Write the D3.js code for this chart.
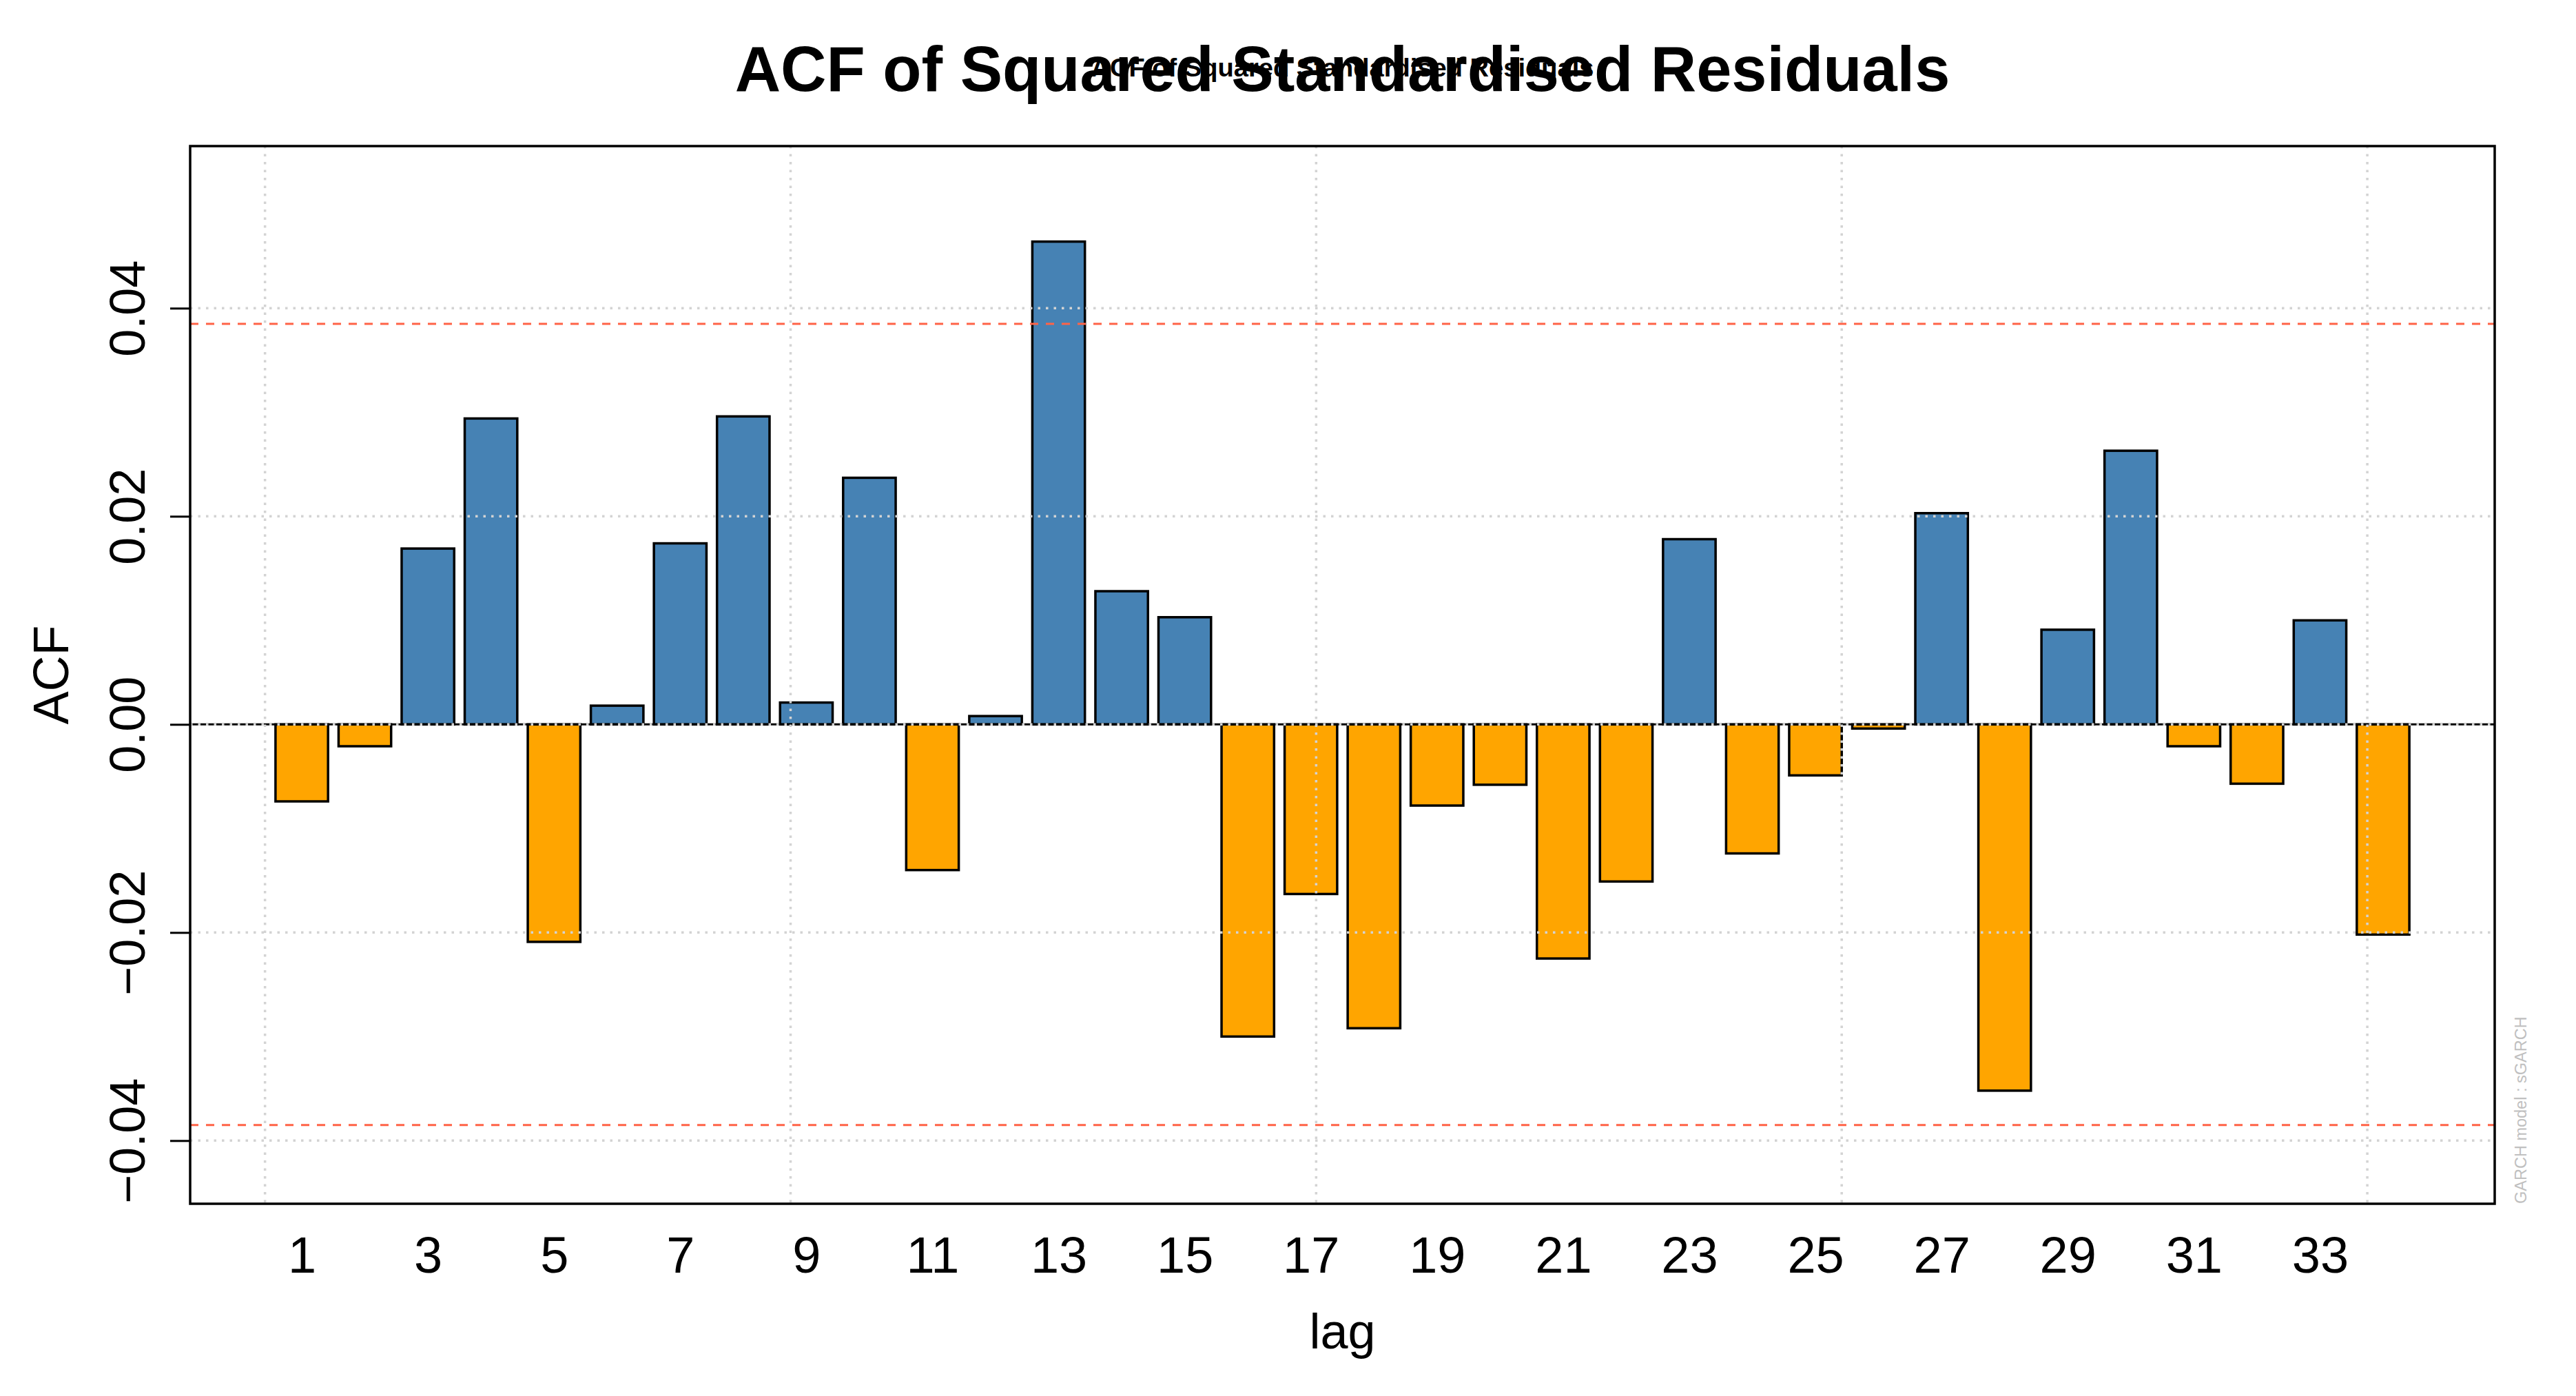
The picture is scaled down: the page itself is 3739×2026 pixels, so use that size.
<!DOCTYPE html>
<html>
<head>
<meta charset="utf-8">
<script src="https://cdn.jsdelivr.net/npm/d3@7"></script>
<style>
  body { margin: 0; background: #fff; }
  svg { display: block; font-family: "Liberation Sans", Arial, sans-serif; }
</style>
</head>
<body>
<svg id="plot" width="3739" height="2026"></svg>
<script>
// lags 1..34 and their ACF of squared standardised residuals
const lags = [1, 2, 3, 4, 5, 6, 7, 8, 9, 10, 11, 12, 13, 14, 15, 16, 17,
  18, 19, 20, 21, 22, 23, 24, 25, 26, 27, 28, 29, 30, 31, 32, 33, 34];
const acfValues = [-0.0074, -0.0021, 0.0169, 0.0294, -0.0209, 0.0018, 0.0174,
  0.0296, 0.0021, 0.0237, -0.0140, 0.0008, 0.0464, 0.0128, 0.0103, -0.0300,
  -0.0163, -0.0292, -0.0078, -0.0058, -0.0225, -0.0151, 0.0178, -0.0124,
  -0.0049, -0.0004, 0.0203, -0.0352, 0.0091, 0.0263, -0.0021, -0.0057,
  0.0100, -0.0202];
const xTickLags = [1, 3, 5, 7, 9, 11, 13, 15, 17, 19, 21, 23, 25, 27, 29, 31, 33];
const yTicks = [-0.04, -0.02, 0.00, 0.02, 0.04];
const xGrid = [0, 10, 20, 30, 40];
const confLimit = 0.0385;

const svg = d3.select('#plot');

const pLeft = 276, pRight = 3621, pTop = 212, pBottom = 1747;

// barplot coordinates: bar i spans [1.2i - 1, 1.2i]
const xScale = d3.scaleLinear()
  .domain([-1.424, 42.424])
  .range([pLeft, pRight]);

const yScale = d3.scaleLinear()
  .domain([-0.04607, 0.05558])
  .range([pBottom, pTop]);

const barLeft = lag => 1.2 * lag - 1;
const barMid = lag => 1.2 * lag - 0.5;

// bars
svg.append('g')
  .selectAll('rect')
  .data(lags)
  .enter()
  .append('rect')
  .attr('x', (d) => xScale(barLeft(d)))
  .attr('width', (d) => xScale(barLeft(d) + 1) - xScale(barLeft(d)))
  .attr('y', (d, i) => yScale(Math.max(0, acfValues[i])))
  .attr('height', (d, i) => Math.abs(yScale(acfValues[i]) - yScale(0)))
  .attr('fill', (d, i) => acfValues[i] >= 0 ? '#4682B4' : '#FFA500')
  .attr('stroke', '#000')
  .attr('stroke-width', 3.5);

// zero line
svg.append('line')
  .attr('x1', pLeft).attr('x2', pRight)
  .attr('y1', yScale(0)).attr('y2', yScale(0))
  .attr('stroke', '#000')
  .attr('stroke-width', 3);

// dotted grid
const grid = svg.append('g')
  .attr('stroke', '#d3d3d3')
  .attr('stroke-width', 3.5)
  .attr('stroke-dasharray', '3.5,8');
grid.selectAll('.hg')
  .data(yTicks)
  .enter()
  .append('line')
  .attr('x1', pLeft).attr('x2', pRight)
  .attr('y1', d => yScale(d)).attr('y2', d => yScale(d));
grid.selectAll('.vg')
  .data(xGrid)
  .enter()
  .append('line')
  .attr('y1', pTop).attr('y2', pBottom)
  .attr('x1', d => xScale(d)).attr('x2', d => xScale(d));

// confidence limits
svg.append('g')
  .selectAll('line')
  .data([confLimit, -confLimit])
  .enter()
  .append('line')
  .attr('x1', pLeft).attr('x2', pRight)
  .attr('y1', d => yScale(d)).attr('y2', d => yScale(d))
  .attr('stroke', '#FF6347')
  .attr('stroke-width', 3)
  .attr('stroke-dasharray', '12,11');

// y axis
const yAxis = svg.append('g')
  .attr('transform', 'translate(' + pLeft + ',0)')
  .call(d3.axisLeft(yScale).tickValues(yTicks).tickSize(29).tickFormat(d3.format('.2f')));
yAxis.select('.domain').remove();
yAxis.selectAll('.tick line').attr('stroke', '#000').attr('stroke-width', 3);
yAxis.selectAll('.tick text')
  .text(d => d3.format('.2f')(d).replace('-', '\u2212'))
  .attr('x', 0)
  .attr('y', -66)
  .attr('dy', 0)
  .attr('transform', 'rotate(-90)')
  .attr('text-anchor', 'middle')
  .attr('fill', '#000')
  .style('font-family', '"Liberation Sans", Arial, sans-serif')
  .style('font-size', '72px');

// x axis: labels only
const xAxis = svg.append('g')
  .attr('transform', 'translate(0,' + pBottom + ')')
  .call(d3.axisBottom(xScale)
    .tickValues(xTickLags.map(barMid))
    .tickSize(0)
    .tickFormat((d, i) => xTickLags[i]));
xAxis.select('.domain').remove();
xAxis.selectAll('.tick text')
  .attr('y', 100)
  .attr('dy', 0)
  .attr('fill', '#000')
  .style('font-family', '"Liberation Sans", Arial, sans-serif')
  .style('font-size', '74px');

// plot box
svg.append('rect')
  .attr('x', pLeft).attr('y', pTop)
  .attr('width', pRight - pLeft).attr('height', pBottom - pTop)
  .attr('fill', 'none')
  .attr('stroke', '#000')
  .attr('stroke-width', 3.5);

// titles (the small one is overprinted on the big one, as in the original)
const midX = (pLeft + pRight) / 2;
svg.append('text')
  .attr('x', midX).attr('y', 132)
  .attr('text-anchor', 'middle')
  .style('font-weight', 'bold')
  .style('font-size', '92px')
  .text('ACF of Squared Standardised Residuals');
svg.append('text')
  .attr('x', midX).attr('y', 111)
  .attr('text-anchor', 'middle')
  .attr('textLength', 730)
  .attr('lengthAdjust', 'spacingAndGlyphs')
  .style('font-weight', 'bold')
  .style('font-size', '36px')
  .text('ACF of Squared Standardised Residuals');

svg.append('text')
  .attr('transform', 'translate(99,' + ((pTop + pBottom) / 2) + ') rotate(-90)')
  .attr('text-anchor', 'middle')
  .style('font-size', '72px')
  .text('ACF');

svg.append('text')
  .attr('x', midX).attr('y', 1957)
  .attr('text-anchor', 'middle')
  .style('font-size', '72px')
  .text('lag');

svg.append('text')
  .attr('transform', 'translate(3667,' + pBottom + ') rotate(-90)')
  .attr('text-anchor', 'start')
  .attr('fill', '#c0c0c0')
  .style('font-size', '23.5px')
  .text('GARCH model : sGARCH');
</script>
</body>
</html>
